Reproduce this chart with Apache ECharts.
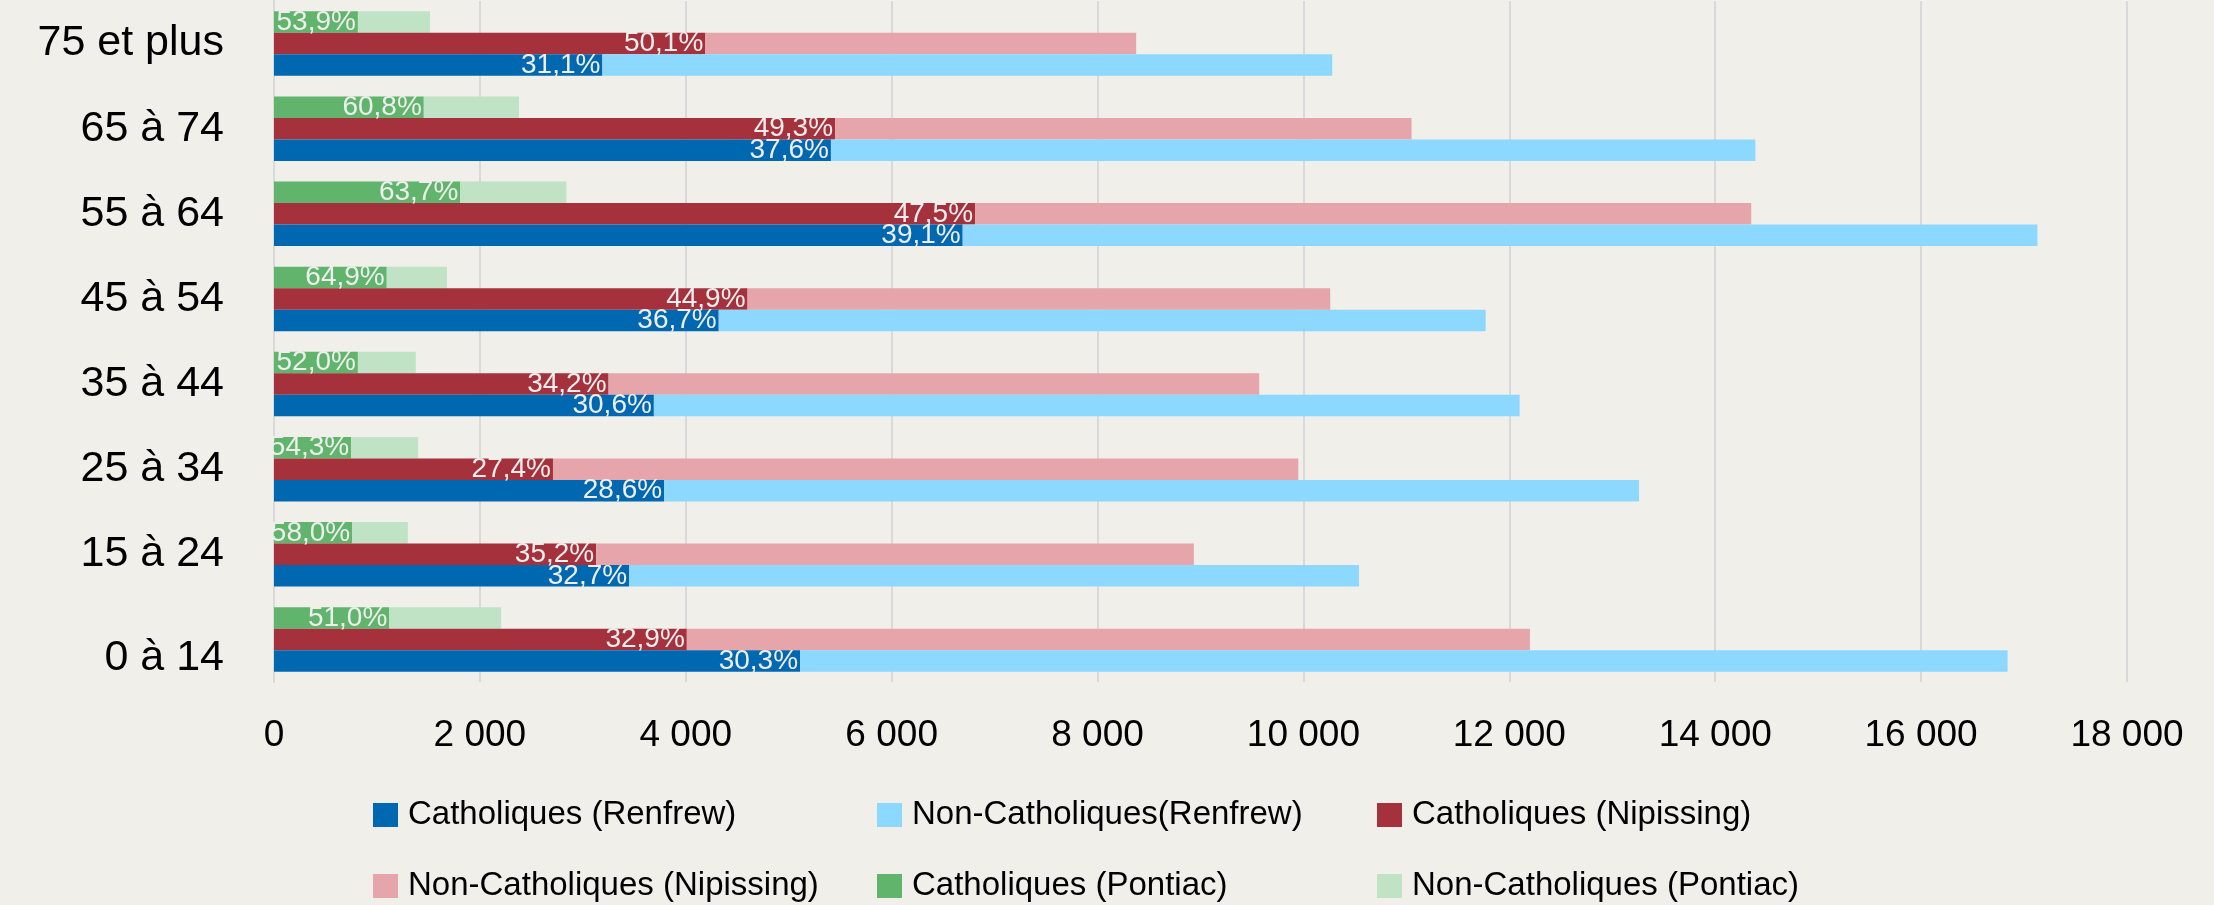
<!DOCTYPE html>
<html>
<head>
<meta charset="utf-8">
<script src="https://cdn.jsdelivr.net/npm/echarts@6/dist/echarts.min.js"></script>
<style>
html,body{margin:0;padding:0;background:#f0efe9;}
#chart{width:2214px;height:905px;}
</style>
</head>
<body>
<div id="chart"></div>
<script>
// Categories, top to bottom as in the picture
const categories = ['75 et plus', '65 à 74', '55 à 64', '45 à 54', '35 à 44', '25 à 34', '15 à 24', '0 à 14'];

// Renfrew
const renfrewCath = [3190, 5410, 6690, 4320, 3690, 3790, 3450, 5110];
const renfrewNon  = [7090, 8980, 10440, 7450, 8410, 9470, 7090, 11730];
const renfrewPct  = ['31,1', '37,6', '39,1', '36,7', '30,6', '28,6', '32,7', '30,3'];

// Nipissing
const nipissingCath = [4190, 5450, 6810, 4600, 3250, 2710, 3130, 4010];
const nipissingNon  = [4185, 5600, 7540, 5660, 6320, 7240, 5805, 8190];
const nipissingPct  = ['50,1', '49,3', '47,5', '44,9', '34,2', '27,4', '35,2', '32,9'];

// Pontiac
const pontiacCath = [815, 1455, 1810, 1095, 815, 750, 760, 1120];
const pontiacNon  = [700, 925, 1030, 585, 562, 650, 540, 1087];
const pontiacPct  = ['53,9', '60,8', '63,7', '64,9', '52,0', '54,3', '58,0', '51,0'];

const xTicks = [0, 2000, 4000, 6000, 8000, 10000, 12000, 14000, 16000, 18000];

const names = {
  rc: 'Catholiques (Renfrew)',
  rn: 'Non-Catholiques(Renfrew)',
  nc: 'Catholiques (Nipissing)',
  nn: 'Non-Catholiques (Nipissing)',
  pc: 'Catholiques (Pontiac)',
  pn: 'Non-Catholiques (Pontiac)'
};
const colors = {
  rc: '#0068b0', rn: '#8dd8ff',
  nc: '#a4313b', nn: '#e5a5aa',
  pc: '#60b46b', pn: '#c0e2c5'
};

const BAR_W = 21.5;
function catSeries(name, stack, data, pct, color) {
  return {
    name, type: 'bar', stack, data, barWidth: BAR_W, barGap: '0%',
    itemStyle: { color },
    label: {
      show: true, position: 'insideRight', distance: 2,
      color: '#eeeeee', fontSize: 28, fontFamily: 'Liberation Sans',
      formatter: p => pct[p.dataIndex] + '%'
    },
    emphasis: { disabled: true }
  };
}
function nonSeries(name, stack, data, color) {
  return {
    name, type: 'bar', stack, data, barWidth: BAR_W, barGap: '0%',
    itemStyle: { color },
    emphasis: { disabled: true }
  };
}

function legendItem(key, left, top) {
  return {
    data: [names[key]], left, top, padding: 0,
    itemWidth: 25, itemHeight: 24, icon: 'rect',
    selectedMode: false,
    textStyle: { fontSize: 33, color: '#000', fontFamily: 'Liberation Sans', lineHeight: 36, padding: [0, 0, 0, 5] }
  };
}

const chart = echarts.init(document.getElementById('chart'), null, { renderer: 'canvas' });
chart.setOption({
  animation: false,
  backgroundColor: '#f0efe9',
  grid: { left: 274, right: 87, top: 1, bottom: 223, containLabel: false },
  xAxis: {
    type: 'value', min: 0, max: 18000, interval: 2000,
    axisLine: { show: false }, axisTick: { show: false },
    splitLine: { show: true, lineStyle: { color: '#d9d9d9', width: 2 } },
    axisLabel: {
      fontSize: 37, color: '#000', fontFamily: 'Liberation Sans', margin: 35,
      formatter: v => String(v).replace(/\B(?=(\d{3})+(?!\d))/g, ' ')
    }
  },
  yAxis: {
    type: 'category', data: categories, inverse: true,
    axisLine: { show: true, lineStyle: { color: '#d9d9d9', width: 2 } },
    axisTick: { show: false },
    axisLabel: {
      fontSize: 43, color: '#000', fontFamily: 'Liberation Sans', margin: 50,
      formatter: (v, i) => i === categories.length - 1 ? '{low|' + v + '}' : v,
      rich: { low: { fontSize: 43, color: '#000', fontFamily: 'Liberation Sans', padding: [38, 0, 0, 0] } }
    }
  },
  legend: [
    legendItem('rc', 373, 797),
    legendItem('rn', 877, 797),
    legendItem('nc', 1377, 797),
    legendItem('nn', 373, 868),
    legendItem('pc', 877, 868),
    legendItem('pn', 1377, 868)
  ],
  series: [
    catSeries(names.pc, 'P', pontiacCath, pontiacPct, colors.pc),
    nonSeries(names.pn, 'P', pontiacNon, colors.pn),
    catSeries(names.nc, 'N', nipissingCath, nipissingPct, colors.nc),
    nonSeries(names.nn, 'N', nipissingNon, colors.nn),
    catSeries(names.rc, 'R', renfrewCath, renfrewPct, colors.rc),
    nonSeries(names.rn, 'R', renfrewNon, colors.rn)
  ]
});
</script>
</body>
</html>
